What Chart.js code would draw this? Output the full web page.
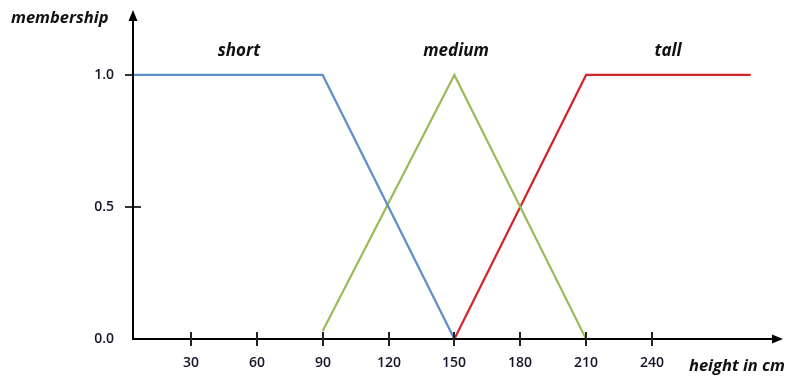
<!DOCTYPE html>
<html><head><meta charset="utf-8">
<script src="https://cdn.jsdelivr.net/npm/chart.js@4"></script>
<style>html,body{margin:0;padding:0;background:#fff;}#wrap{width:791px;height:379px;}</style>
</head><body><div id="wrap"><canvas id="c" width="791" height="379"></canvas></div>
<script>
const shortX = [0, 90, 150];
const shortY = [1, 1, 0];
const mediumX = [90, 150, 210];
const mediumY = [0.03, 1, 0];
const tallX = [150, 210, 285];
const tallY = [0, 1, 1];
const xTicks = [30, 60, 90, 120, 150, 180, 210, 240];
const yTicks = [0.0, 0.5, 1.0];
const seriesNames = ['short', 'medium', 'tall'];
const seriesLabelX = [239, 456, 668];

const pts = (xs, ys) => xs.map((x, i) => ({x, y: ys[i]}));
const FONT = '"Open Sans", Lato, sans-serif';

const ticksPlugin = {
  id: 'ticksUnder',
  beforeDatasetsDraw(chart) {
    const ctx = chart.ctx, xs = chart.scales.x, ys = chart.scales.y;
    const x0 = xs.left;
    ctx.save();
    ctx.strokeStyle = '#333'; ctx.lineWidth = 2;
    yTicks.forEach(v => {
      if (v <= 0) return;
      const py = Math.round(ys.getPixelForValue(v));
      ctx.beginPath(); ctx.moveTo(x0 - 8, py); ctx.lineTo(x0 + 8, py); ctx.stroke();
    });
    ctx.restore();
  }
};

const axesPlugin = {
  id: 'axes',
  afterDatasetsDraw(chart) {
    const ctx = chart.ctx, xs = chart.scales.x, ys = chart.scales.y;
    const x0 = xs.left, y0 = ys.getPixelForValue(0);
    const xEnd = xs.right, yTop = ys.top;
    ctx.save();
    ctx.strokeStyle = '#000'; ctx.fillStyle = '#000'; ctx.lineWidth = 2;
    ctx.beginPath(); ctx.moveTo(x0, y0); ctx.lineTo(xEnd - 8, y0); ctx.stroke();
    ctx.beginPath(); ctx.moveTo(x0, y0 + 1); ctx.lineTo(x0, yTop + 8); ctx.stroke();
    ctx.beginPath(); ctx.moveTo(xEnd, y0); ctx.lineTo(xEnd - 11, y0 - 4.5); ctx.lineTo(xEnd - 11, y0 + 4.5); ctx.closePath(); ctx.fill();
    ctx.beginPath(); ctx.moveTo(x0, yTop); ctx.lineTo(x0 - 4.5, yTop + 11); ctx.lineTo(x0 + 4.5, yTop + 11); ctx.closePath(); ctx.fill();
    ctx.strokeStyle = '#222'; ctx.lineWidth = 2;
    ctx.font = '600 14px ' + FONT; ctx.textAlign = 'center'; ctx.textBaseline = 'middle';
    xTicks.forEach(v => {
      const px = Math.round(xs.getPixelForValue(v));
      ctx.beginPath(); ctx.moveTo(px, y0 - 7); ctx.lineTo(px, y0 + 7); ctx.stroke();
      ctx.fillStyle = '#15152a'; ctx.fillText(String(v), px, y0 + 24);
    });
    ctx.textAlign = 'right';
    yTicks.forEach(v => {
      const py = Math.round(ys.getPixelForValue(v));
      ctx.fillStyle = '#15152a'; ctx.fillText(v.toFixed(1), 114, py);
    });
    ctx.fillStyle = '#111';
    ctx.font = 'italic 700 16.5px ' + FONT;
    ctx.textAlign = 'left';
    ctx.fillText('membership', 11, 18);
    ctx.textAlign = 'right';
    ctx.fillText('height in cm', 785, 366);
    ctx.textAlign = 'center';
    ctx.font = 'italic 700 17px ' + FONT;
    seriesNames.forEach((n, i) => ctx.fillText(n, seriesLabelX[i], 51));
    ctx.restore();
  }
};

new Chart(document.getElementById('c'), {
  type: 'line',
  data: {
    datasets: [
      {label: 'short', data: pts(shortX, shortY), borderColor: '#5f8dca', borderWidth: 2.2},
      {label: 'medium', data: pts(mediumX, mediumY), borderColor: '#9bbb59', borderWidth: 2.2},
      {label: 'tall', data: pts(tallX, tallY), borderColor: '#d3242a', borderWidth: 2.2}
    ]
  },
  options: {
    responsive: false, animation: false,
    layout: {padding: {left: 133, right: 8, top: 10, bottom: 40}},
    elements: {point: {radius: 0}, line: {tension: 0}},
    plugins: {legend: {display: false}, tooltip: {enabled: false}},
    scales: {
      x: {type: 'linear', min: 3.6, max: 299.7, display: false},
      y: {type: 'linear', min: 0, max: 1.246, display: false}
    }
  },
  plugins: [ticksPlugin, axesPlugin]
});
</script></body></html>
